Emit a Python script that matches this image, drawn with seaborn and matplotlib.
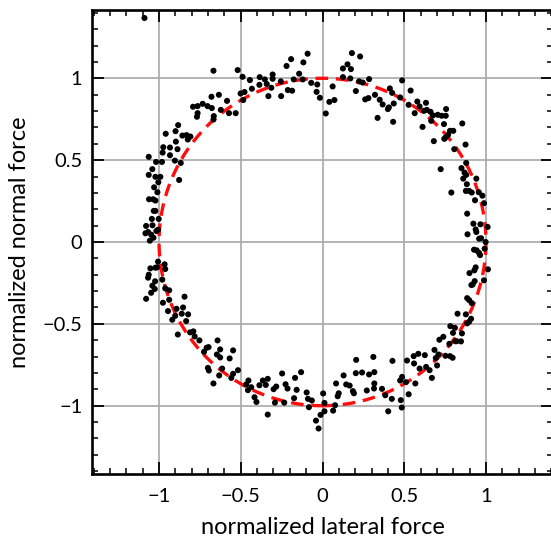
import matplotlib
matplotlib.use("Agg")
import matplotlib.pyplot as plt
from matplotlib.patches import Circle
from matplotlib.ticker import MultipleLocator
import seaborn as sns
import pandas as pd

# ---- data ----
lateral = [
    -1.089, -0.667, -0.519, -0.489, -0.444, -0.384, -0.353, -0.305, -0.305, -0.220, -0.192, -0.117, -0.091, -0.143, -0.176, -0.121,
    -0.255, -0.341, -0.386, -0.313, -0.432, -0.477, -0.501, -0.485, -0.331, -0.253, -0.212, -0.186, -0.069, -0.032, -0.036, -0.016,
    0.020, 0.042, -0.634, -0.679, -0.584, -0.733, -0.792, -0.764, -0.703, -0.677, -0.622, -0.572, -0.531, -0.764, -0.768, -0.665,
    -0.667, -0.883, -0.899, -0.959, -0.857, -0.832, -0.808, -0.824, -0.897, -0.974, -0.933, -0.978, -0.887, -0.933, -1.063, -0.903,
    -0.867, -0.982, -1.018, -1.041, -1.063, -1.022, -0.992, -0.877,
    0.180, 0.230, 0.153, 0.125, 0.174, 0.125, 0.170, 0.285, 0.224, 0.246, 0.487, 0.062, 0.204, 0.073, 0.261, 0.281,
    0.321, 0.350, 0.368, 0.337, 0.412, 0.426, 0.436, 0.406, 0.400, 0.432, 0.475, 0.539, 0.527, 0.564, 0.580, 0.594,
    0.633, 0.620, 0.638, 0.661, 0.675, 0.665, 0.612, 0.705, 0.729, 0.754, 0.756, 0.743, 0.681, 0.780, 0.800, 0.768,
    0.752, 0.745, 0.855, 0.875, 0.806, 0.879, 0.850, 0.723, 0.869, 0.879, 0.861, 0.941,
    -1.004, -1.030, -1.010, -1.061, -1.036, -1.022, -1.032, -1.022, -1.044, -1.002, -1.079, -1.040, -1.006, -1.016, -1.083, -1.067,
    -1.048, -1.034, -1.056, -1.006, -0.966, -0.962, -1.053, -1.022, -1.012, -1.063, -1.067, -1.024, -0.980, -1.041, -1.026, -1.048,
    -1.079, -0.962, -0.938, -0.938, -0.976, -0.844, -0.893, -0.853, -0.945, -0.861, -0.822, -0.901, -0.919, -0.834, -0.885, -0.810,
    -0.790, -0.782, -0.753, -0.642,
    -0.709, -0.697, -0.725, -0.626, -0.547, -0.646, -0.626, -0.568, -0.701, -0.695, -0.614, -0.517, -0.547, -0.558, -0.632, -0.667,
    -0.467, -0.453, -0.456, -0.436, -0.386, -0.365, -0.347, -0.335, -0.416, -0.404, -0.335, -0.299, -0.283, -0.291, -0.247, -0.226,
    -0.214, -0.234, -0.168, -0.131, -0.158, -0.174, -0.097, -0.089, -0.065, -0.083, 0.004, 0.012, 0.012, -0.012, -0.040, -0.024,
    0.065, 0.077, 0.083, 0.093, 0.099, 0.129, 0.145, 0.166, 0.186, 0.192, 0.206, 0.204, 0.242, 0.271, 0.285, 0.311,
    0.317, 0.317, 0.315, 0.364, 0.384, 0.402, 0.424, 0.428, 0.479, 0.485, 0.475, 0.487, 0.511, 0.517, 0.527, 0.558,
    0.560, 0.568, 0.586, 0.594, 0.626, 0.634, 0.655, 0.669, 0.685, 0.693, 0.701, 0.709, 0.715, 0.752, 0.776, 0.780,
    0.796, 0.812, 0.820, 0.847,
    0.883, 0.788, 0.877, 0.897, 0.913, 0.956, 0.978, 0.933, 0.988, 0.885, 0.923, 0.966, 1.010, 0.937, 0.941, 0.887,
    0.958, 0.970, 0.998, 0.927, 0.943, 0.958, 0.964, 0.992, 1.012, 0.937, 0.929, 0.899, 0.988, 0.931, 0.919, 0.911,
    0.885, 0.897, 0.913, 0.877, 0.826, 0.909, 0.897, 0.885, 0.782, 0.810, 0.853, 0.798, 0.739,
]
normal = [
    1.368, 1.046, 1.050, 1.009, 0.989, 1.007, 0.993, 1.023, 0.997, 1.075, 1.117, 1.097, 1.150, 1.028, 0.993, 0.993,
    0.981, 0.965, 0.960, 0.942, 0.936, 0.916, 0.907, 0.867, 0.891, 0.891, 0.928, 0.924, 0.972, 0.962, 0.917, 0.881,
    0.785, 0.856, 0.899, 0.887, 0.862, 0.844, 0.826, 0.830, 0.830, 0.818, 0.807, 0.787, 0.787, 0.787, 0.765, 0.769,
    0.748, 0.714, 0.677, 0.661, 0.650, 0.653, 0.644, 0.626, 0.613, 0.579, 0.577, 0.546, 0.567, 0.530, 0.520, 0.497,
    0.483, 0.489, 0.489, 0.445, 0.410, 0.398, 0.398, 0.379,
    1.154, 1.133, 1.085, 1.060, 1.056, 1.007, 0.999, 0.995, 0.981, 0.974, 0.987, 0.950, 0.922, 0.867, 0.871, 0.879,
    0.899, 0.869, 0.840, 0.758, 0.938, 0.911, 0.846, 0.822, 0.812, 0.734, 0.883, 0.925, 0.838, 0.787, 0.858, 0.828,
    0.850, 0.801, 0.807, 0.795, 0.773, 0.740, 0.703, 0.777, 0.771, 0.771, 0.812, 0.720, 0.616, 0.679, 0.679, 0.654,
    0.638, 0.630, 0.724, 0.595, 0.567, 0.483, 0.451, 0.445, 0.424, 0.410, 0.387, 0.387,
    0.365, 0.334, 0.304, 0.261, 0.261, 0.253, 0.190, 0.190, 0.141, 0.141, 0.098, 0.102, 0.075, 0.067, 0.053, 0.061,
    0.045, 0.026, 0.008, -0.120, -0.136, -0.165, -0.161, -0.157, -0.155, -0.200, -0.218, -0.240, -0.230, -0.267, -0.287, -0.310,
    -0.347, -0.283, -0.295, -0.353, -0.371, -0.334, -0.408, -0.400, -0.422, -0.438, -0.442, -0.451, -0.475, -0.483, -0.565, -0.552,
    -0.546, -0.577, -0.601, -0.601,
    -0.646, -0.642, -0.671, -0.656, -0.662, -0.687, -0.705, -0.711, -0.769, -0.785, -0.773, -0.783, -0.805, -0.830, -0.815, -0.864,
    -0.870, -0.846, -0.905, -0.887, -0.875, -0.846, -0.873, -0.836, -0.948, -0.977, -1.054, -0.899, -0.883, -0.981, -0.803, -0.869,
    -0.895, -0.981, -0.830, -0.795, -0.903, -0.954, -0.919, -0.958, -0.968, -1.009, -0.925, -0.983, -1.034, -1.056, -1.091, -1.139,
    -1.030, -0.997, -0.864, -0.942, -0.924, -0.815, -0.870, -0.877, -0.911, -0.924, -0.720, -0.801, -0.797, -0.907, -0.809, -0.702,
    -0.795, -0.864, -0.895, -0.897, -0.936, -1.034, -0.958, -0.726, -0.966, -1.011, -0.846, -0.824, -0.856, -0.724, -0.930, -0.697,
    -0.742, -0.864, -0.683, -0.773, -0.691, -0.763, -0.783, -0.830, -0.659, -0.709, -0.754, -0.687, -0.597, -0.695, -0.622, -0.697,
    -0.707, -0.606, -0.606, -0.607,
    0.353, 0.302, 0.312, 0.312, 0.302, 0.304, 0.283, 0.255, 0.237, 0.173, 0.112, 0.108, 0.092, 0.077, 0.061, 0.047,
    0.020, 0.023, 0.000, -0.047, -0.051, -0.067, -0.080, -0.041, -0.167, -0.155, -0.173, -0.190, -0.234, -0.239, -0.259, -0.263,
    -0.343, -0.355, -0.373, -0.442, -0.438, -0.469, -0.487, -0.497, -0.514, -0.524, -0.558, -0.555, -0.579,
]
circle_radius = 1.0
x_ticks = [-1, -0.5, 0, 0.5, 1]
y_ticks = [-1, -0.5, 0, 0.5, 1]
tick_labels = ["\u22121", "\u22120.5", "0", "0.5", "1"]
x_label = "normalized lateral force"
y_label = "normalized normal force"

df = pd.DataFrame({"lateral": lateral, "normal": normal})

sns.set_theme(style="white")
plt.rcParams["font.family"] = ["Lato", "DejaVu Sans"]

fig = plt.figure(figsize=(5.51, 5.39), dpi=100)
ax = fig.add_axes([92 / 551, 65 / 539, 461 / 551, 464 / 539])

ax.grid(True, which="major", color="#a8a8a8", linewidth=1.2)
ax.set_axisbelow(True)

circ = Circle((0, 0), circle_radius, fill=False, edgecolor="#ff0d0d",
              linewidth=2.4, linestyle=(0, (3.8, 2.3)), zorder=2)
ax.add_patch(circ)

sns.scatterplot(data=df, x="lateral", y="normal", ax=ax, color="black",
                s=19, edgecolor="none", linewidth=0, zorder=3, legend=False)

ax.set_xlim(-1.41, 1.41)
ax.set_ylim(-1.417, 1.417)
ax.set_xticks(x_ticks)
ax.set_yticks(y_ticks)
ax.set_xticklabels(tick_labels)
ax.set_yticklabels(tick_labels)
ax.xaxis.set_minor_locator(MultipleLocator(0.1))
ax.yaxis.set_minor_locator(MultipleLocator(0.1))
ax.tick_params(which="both", direction="in", top=True, right=True,
               bottom=True, left=True, color="black")
ax.tick_params(which="major", length=8.5, width=1.3, labelsize=14.5,
               labelcolor="black")
ax.tick_params(axis="x", which="major", pad=10)
ax.tick_params(axis="y", which="major", pad=7)
ax.tick_params(which="minor", length=4.5, width=1.1)
for sp in ax.spines.values():
    sp.set_linewidth(1.9)
    sp.set_color("black")

ax.set_xlabel(x_label, fontsize=17, color="black", labelpad=9)
ax.set_ylabel(y_label, fontsize=17, color="black", labelpad=9)

fig.savefig("out.png", dpi=100)
